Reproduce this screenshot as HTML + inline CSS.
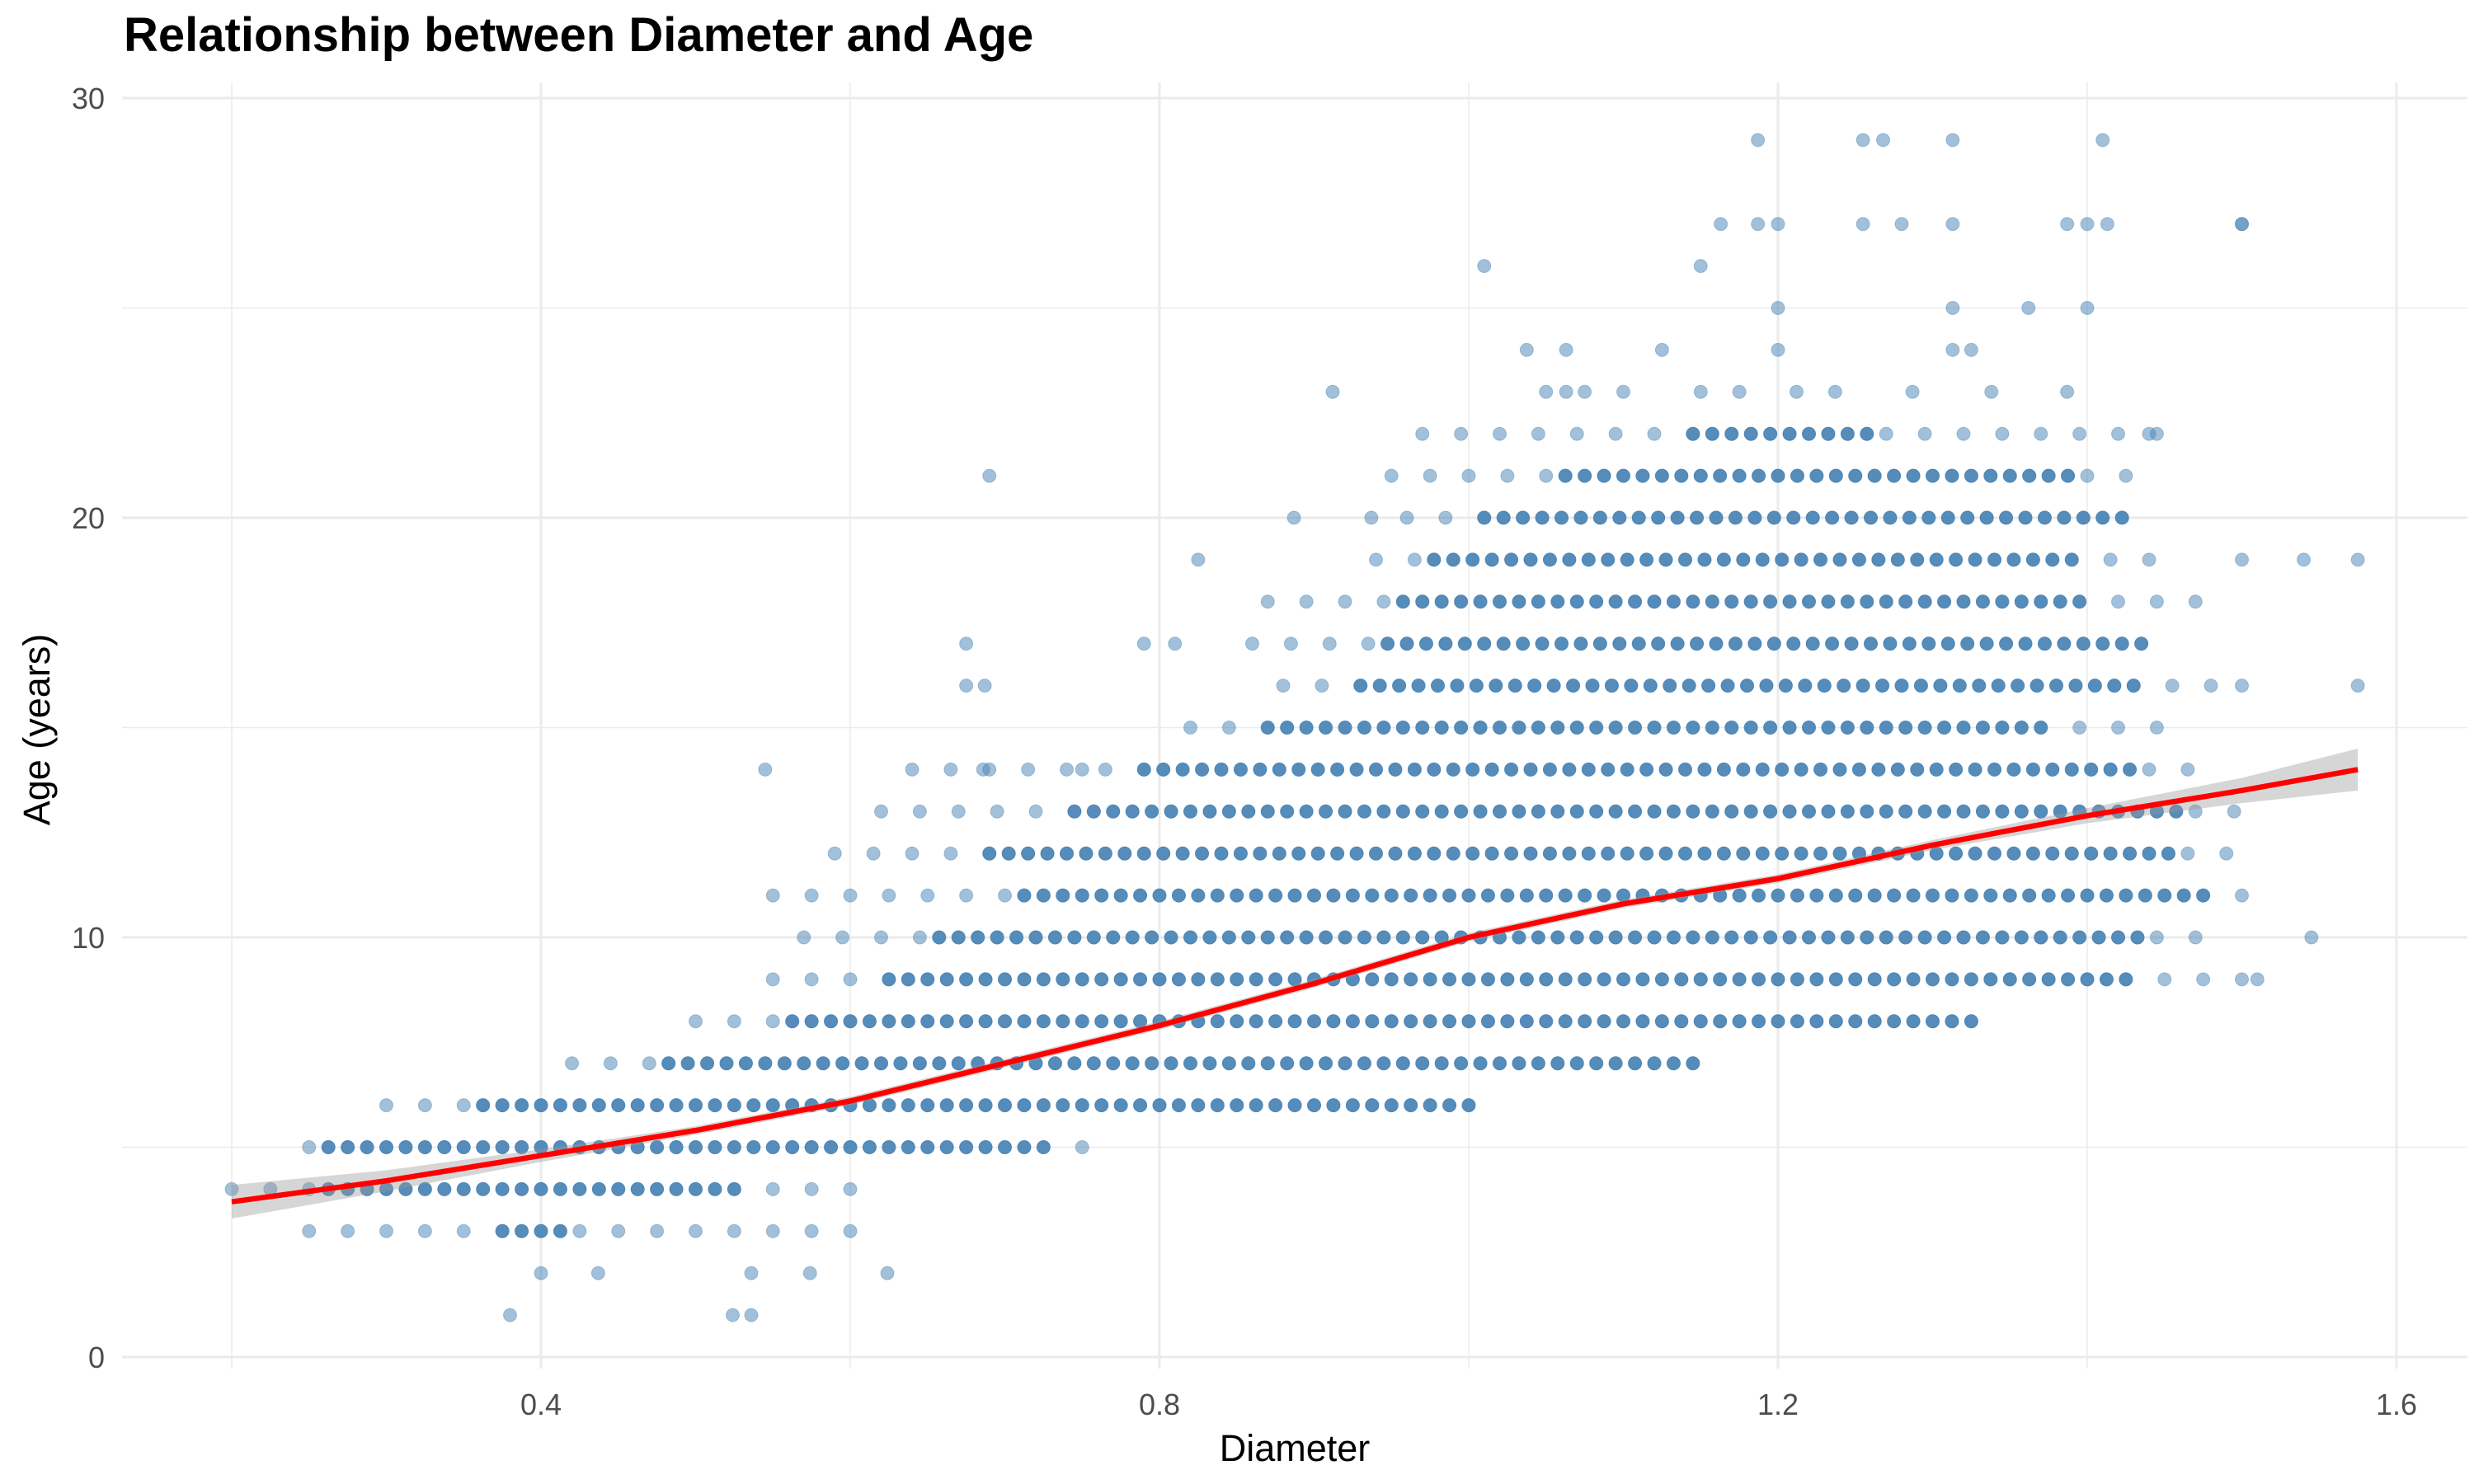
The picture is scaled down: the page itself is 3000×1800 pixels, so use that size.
<!DOCTYPE html>
<html><head><meta charset="utf-8">
<style>
html,body{margin:0;padding:0;background:#fff;}
svg{display:block;font-family:"Liberation Sans",sans-serif;}
</style></head>
<body>
<svg id="chart" width="3000" height="1800" viewBox="0 0 3000 1800" xmlns="http://www.w3.org/2000/svg">
<text x="150" y="62" font-size="58" font-weight="bold" fill="#000">Relationship between Diameter and Age</text>
<g id="grid"></g>
<g id="pts"></g>
<g id="fit"></g>
<g id="axes"></g>
<text x="1570" y="1772" font-size="45" text-anchor="middle" fill="#000">Diameter</text>
<text transform="translate(60,885) rotate(-90)" font-size="45" text-anchor="middle" fill="#000">Age (years)</text>
</svg>
<script>
const xTicks=[0.4,0.8,1.2,1.6];
const xTickLabels=["0.4","0.8","1.2","1.6"];
const xMinor=[0.2,0.6,1.0,1.4];
const yTicks=[0,10,20,30];
const yTickLabels=["0","10","20","30"];
const yMinor=[5,15,25];
const rowAges=[3,4,5,6,7,8,9,10,11,12,13,14,15,16,17,18,19,20,21,22];
const rowDarkLo=[0.37,0.26,0.26,0.36,0.48,0.56,0.62,0.655,0.71,0.68,0.74,0.79,0.86,0.925,0.945,0.95,0.97,1.01,1.06,1.14];
const rowDarkHi=[0.42,0.53,0.73,1.00,1.15,1.33,1.43,1.44,1.48,1.46,1.46,1.43,1.38,1.43,1.44,1.40,1.40,1.43,1.39,1.26];
const rowLightLo=[0.25,0.20,0.25,0.30,0.42,0.50,0.55,0.57,0.55,0.59,0.62,0.64,0.82,0.88,0.86,0.87,0.94,0.96,0.95,0.97];
const rowLightHi=[0.60,0.62,0.76,1.00,1.16,1.33,1.51,1.49,1.51,1.50,1.51,1.47,1.46,1.50,1.45,1.47,1.45,1.43,1.43,1.46];
const outX=[0.38,0.524,0.536,0.40,0.437,0.536,0.574,0.624,0.69,0.887,0.937,0.825,0.79,0.81,0.675,0.675,0.687,0.75,0.686,0.545,1.575,1.575,1.54,1.545,1.51,1.5,1.5,1.5,1.187,1.255,1.268,1.313,1.41,1.01,1.15,1.163,1.187,1.2,1.255,1.28,1.313,1.387,1.4,1.413,1.5,1.2,1.313,1.362,1.4,1.0375,1.063,1.125,1.2,1.313,1.325,1.063,0.912,1.05,1.075,1.1,1.15,1.175,1.212,1.237,1.287,1.338,1.387,1.44];
const outY=[1,1,1,2,2,2,2,2,21,20,20,19,17,17,17,16,16,14,14,14,19,16,19,10,9,16,19,27,29,29,29,29,29,26,26,27,27,27,27,27,27,27,27,27,27,25,25,25,25,24,24,24,24,24,24,23,23,23,23,23,23,23,23,23,23,23,23,22];
const fitX=[0.2,0.3,0.4,0.5,0.6,0.7,0.8,0.9,1.0,1.1,1.2,1.3,1.4,1.5,1.575];
const fitY=[3.7,4.2,4.8,5.4,6.1,7.0,7.9,8.9,10.0,10.8,11.4,12.2,12.9,13.5,14.0];
const fitSE=[0.4,0.25,0.15,0.1,0.1,0.1,0.1,0.1,0.1,0.1,0.1,0.12,0.18,0.3,0.5];

const NS="http://www.w3.org/2000/svg";
const X0=148,X1=2992,Y0=100,Y1=1660;
function sx(d){return 656+(d-0.4)*1875;}
function sy(a){return 1646-a*50.9;}
function mk(tag,attrs,parent){const e=document.createElementNS(NS,tag);for(const k in attrs)e.setAttribute(k,attrs[k]);parent.appendChild(e);return e;}
const grid=document.getElementById('grid'),pts=document.getElementById('pts'),fit=document.getElementById('fit'),axes=document.getElementById('axes');
xMinor.forEach(v=>{const l=mk('line',{x1:sx(v),x2:sx(v),y1:Y0,y2:Y1,stroke:'#ebebeb','stroke-width':1.5},grid);

});
yMinor.forEach(v=>{const l=mk('line',{x1:X0,x2:X1,y1:sy(v),y2:sy(v),stroke:'#ebebeb','stroke-width':1.5},grid);

});
xTicks.forEach((v,i)=>{const l=mk('line',{x1:sx(v),x2:sx(v),y1:Y0,y2:Y1,stroke:'#ebebeb','stroke-width':3},grid);


const t=mk('text',{x:sx(v),y:1716,'font-size':36,'text-anchor':'middle',fill:'#4d4d4d'},axes);t.textContent=xTickLabels[i];

});
yTicks.forEach((v,i)=>{const l=mk('line',{x1:X0,x2:X1,y1:sy(v),y2:sy(v),stroke:'#ebebeb','stroke-width':3},grid);


const t=mk('text',{x:127,y:sy(v)+13,'font-size':36,'text-anchor':'end',fill:'#4d4d4d'},axes);t.textContent=yTickLabels[i];

});
const step=0.0125;
rowAges.forEach((a,i)=>{
  let k=0;
  for(let d=rowLightLo[i];d<=rowLightHi[i]+1e-9;d+=step,k++){
    const dark=d>=rowDarkLo[i]-1e-9&&d<=rowDarkHi[i]+1e-9;
    if(!dark&&k%2)continue;
    const c=mk('circle',{cx:sx(d),cy:sy(a),r:8,fill:'#4682b4','fill-opacity':dark?0.92:0.5,stroke:'#4682b4','stroke-opacity':dark?0.9:0.4,'stroke-width':1},pts);
    
    
  }
});
outX.forEach((d,i)=>{const c=mk('circle',{cx:sx(d),cy:sy(outY[i]),r:8,fill:'#4682b4','fill-opacity':0.5,stroke:'#4682b4','stroke-opacity':0.4,'stroke-width':1},pts);

});
let up=fitX.map((d,i)=>sx(d)+','+sy(fitY[i]+fitSE[i]));
let dn=fitX.map((d,i)=>sx(d)+','+sy(fitY[i]-fitSE[i])).reverse();
const band=mk('polygon',{points:up.concat(dn).join(' '),fill:'#999','fill-opacity':0.4},fit);


const line=mk('polyline',{points:fitX.map((d,i)=>sx(d)+','+sy(fitY[i])).join(' '),fill:'none',stroke:'#ff0000','stroke-width':6.5,'stroke-linejoin':'round'},fit);


</script>
</body></html>
